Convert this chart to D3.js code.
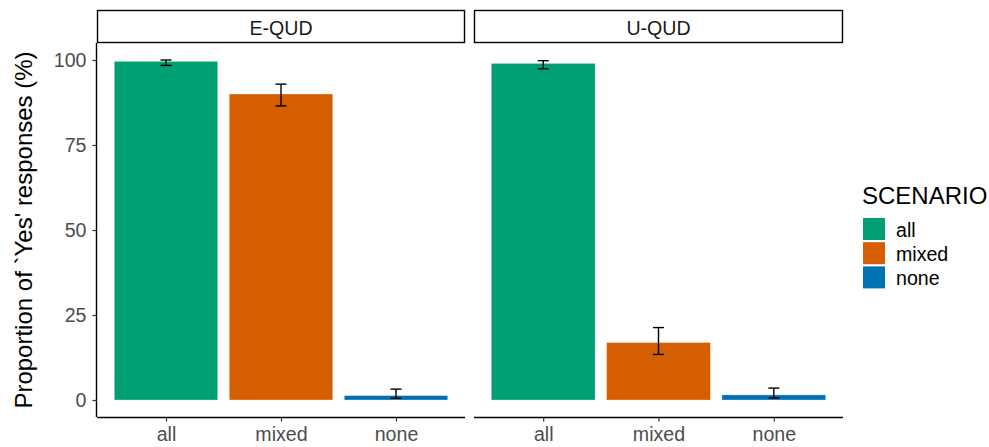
<!DOCTYPE html>
<html>
<head>
<meta charset="utf-8">
<script src="https://cdn.jsdelivr.net/npm/d3@7"></script>
<style>
  body { margin: 0; background: #fff; }
  svg { display: block; font-family: "Liberation Sans", Arial, sans-serif; }
</style>
</head>
<body>
<svg id="chart" width="989" height="447"></svg>
<script>
// Response data: mean % of 'Yes' responses with confidence interval bounds
const panels = ["E-QUD", "U-QUD"];
const scenarios = ["all", "mixed", "none"];
const colors = ["#009E73", "#D55E00", "#0072B2"];
const equdMean = [99.6, 90.0, 1.3];
const equdLow  = [98.4, 86.5, 0.5];
const equdHigh = [100.0, 92.9, 3.2];
const uqudMean = [99.0, 16.9, 1.5];
const uqudLow  = [97.4, 13.4, 0.6];
const uqudHigh = [99.8, 21.3, 3.5];
const yTicks = [0, 25, 50, 75, 100];
const yTitle = "Proportion of `Yes' responses (%)";
const legendTitle = "SCENARIO";

const series = {
  "E-QUD": scenarios.map((s, i) => ({ s, m: equdMean[i], lo: equdLow[i], hi: equdHigh[i] })),
  "U-QUD": scenarios.map((s, i) => ({ s, m: uqudMean[i], lo: uqudLow[i], hi: uqudHigh[i] }))
};

const svg = d3.select("#chart");
const color = d3.scaleOrdinal().domain(scenarios).range(colors);

const panelTop = 43, panelBottom = 417;
const stripTop = 10;
const panelX = [[97, 465], [474, 843]];
const smallFont = 19.6;

const y = d3.scaleLinear().domain([-5, 105]).range([panelBottom, panelTop]);

panels.forEach((p, pi) => {
  const [x0, x1] = panelX[pi];
  // discrete positions with 0.6 expansion on each side, bars 0.9 wide
  const x = d3.scaleLinear().domain([0.4, 3.6]).range([x0, x1]);
  const cx = s => x(scenarios.indexOf(s) + 1);
  const bw = x(1.45) - x(0.55);

  const g = svg.append("g");

  // strip
  g.append("rect")
    .attr("x", x0 + 0.5).attr("y", stripTop + 0.5)
    .attr("width", x1 - x0 - 1).attr("height", panelTop - stripTop - 1)
    .attr("fill", "#fff").attr("stroke", "#000").attr("stroke-width", 1.4);
  g.append("text")
    .attr("x", (x0 + x1) / 2).attr("y", 34.5)
    .attr("text-anchor", "middle").attr("font-size", smallFont).attr("fill", "#1a1a1a")
    .text(p);

  // bars
  g.selectAll("rect.bar").data(series[p]).join("rect")
    .attr("class", "bar")
    .attr("x", d => cx(d.s) - bw / 2)
    .attr("width", bw)
    .attr("y", d => y(d.m))
    .attr("height", d => y(0) - y(d.m))
    .attr("fill", d => color(d.s))
    .attr("stroke", "#fff").attr("stroke-opacity", 0.6).attr("stroke-width", 0.5);

  // error bars
  const cap = 5.5;
  const eb = g.selectAll("g.eb").data(series[p]).join("g").attr("class", "eb")
    .attr("stroke", "#000").attr("stroke-width", 1.4);
  eb.append("line").attr("x1", d => cx(d.s)).attr("x2", d => cx(d.s))
    .attr("y1", d => y(d.lo)).attr("y2", d => y(d.hi));
  eb.append("line").attr("x1", d => cx(d.s) - cap).attr("x2", d => cx(d.s) + cap)
    .attr("y1", d => y(d.lo)).attr("y2", d => y(d.lo));
  eb.append("line").attr("x1", d => cx(d.s) - cap).attr("x2", d => cx(d.s) + cap)
    .attr("y1", d => y(d.hi)).attr("y2", d => y(d.hi));

  // x axis
  const xs = d3.scalePoint().domain(scenarios).range([cx("all"), cx("none")]);
  const xa = g.append("g").attr("transform", `translate(0,${panelBottom})`)
    .call(d3.axisBottom(xs).tickSize(4.5).tickPadding(4));
  xa.select(".domain").attr("d", `M${x0},0.5H${x1}`).attr("stroke", "#000").attr("stroke-width", 1.4);
  xa.selectAll(".tick line").attr("stroke", "#333").attr("stroke-width", 1.2);
  xa.selectAll(".tick text").attr("font-size", smallFont).attr("fill", "#4d4d4d")
    .attr("font-family", "Liberation Sans, Arial, sans-serif")
    .attr("y", 24).attr("dy", null);

  // y axis on first panel only
  if (pi === 0) {
    const ya = g.append("g").attr("transform", `translate(${x0},0)`)
      .call(d3.axisLeft(y).tickValues(yTicks).tickSize(4.5).tickPadding(6));
    ya.select(".domain").attr("d", `M-0.5,${panelTop}V${panelBottom}`).attr("stroke", "#000").attr("stroke-width", 1.4);
    ya.selectAll(".tick line").attr("stroke", "#333").attr("stroke-width", 1.2);
    ya.selectAll(".tick text").attr("font-size", smallFont).attr("fill", "#4d4d4d")
      .attr("font-family", "Liberation Sans, Arial, sans-serif");
  }
});

// y title
svg.append("text")
  .attr("transform", `translate(32,${(panelTop + panelBottom) / 2}) rotate(-90)`)
  .attr("text-anchor", "middle").attr("font-size", 24).attr("fill", "#000")
  .text(yTitle);

// legend
const lg = svg.append("g");
lg.append("text").attr("x", 862).attr("y", 204).attr("font-size", 24).attr("fill", "#000").text(legendTitle);
scenarios.forEach((s, i) => {
  const ky = 218 + i * 24.2;
  lg.append("rect").attr("x", 863).attr("y", ky).attr("width", 22).attr("height", 22).attr("fill", color(s));
  lg.append("text").attr("x", 896).attr("y", ky + 18.5).attr("font-size", smallFont).attr("fill", "#000").text(s);
});
</script>
</body>
</html>
